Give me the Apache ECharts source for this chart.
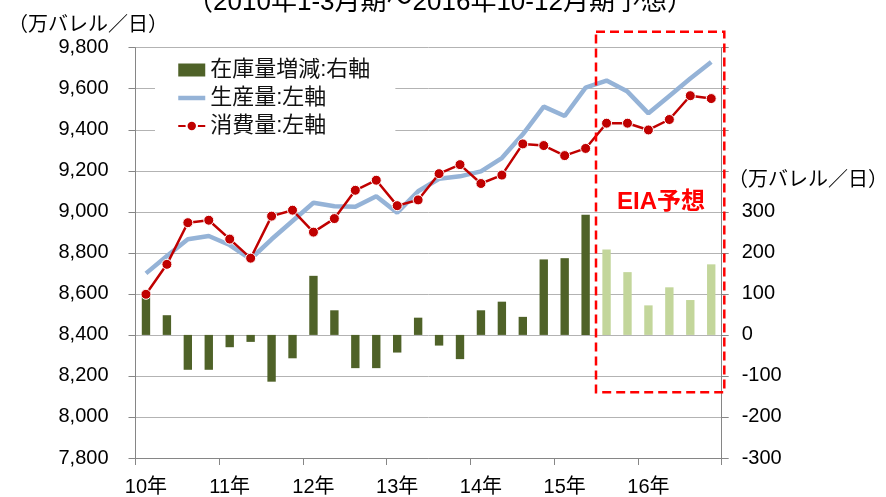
<!DOCTYPE html>
<html>
<head>
<meta charset="utf-8">
<script src="https://cdn.jsdelivr.net/npm/echarts@6/dist/echarts.min.js"></script>
<style>
  body { margin: 0; background: #fff; }
  #chart-box { width: 886px; height: 497px; }
</style>
</head>
<body>
<div id="chart-box"></div>
<script>
// 四半期データ 2010年1-3月期～2016年10-12月期 (22番目以降はEIA予想)
const years = ["10年", "11年", "12年", "13年", "14年", "15年", "16年"];
const quarterNames = ["1-3月期", "4-6月期", "7-9月期", "10-12月期"];
const forecastStart = 22;

// 在庫量増減 (右軸)
const stockChange = [97, 48, -85, -85, -30, -17, -114, -57, 144, 60, -81, -81, -43, 42,
  -26, -59, 60, 81, 44, 184, 187, 293, 208, 153, 72, 116, 85, 172];
// 生産量 (左軸)
const production = [8700, 8785, 8866, 8882, 8838, 8770, 8866, 8955, 9044, 9027, 9025, 9076,
  8996, 9100, 9161, 9173, 9197, 9262, 9378, 9513, 9467, 9605, 9640, 9586, 9480, 9565, 9650, 9730];
// 消費量 (左軸)
const consumption = [8598, 8744, 8947, 8959, 8867, 8774, 8979, 9008, 8901, 8967, 9105, 9154,
  9030, 9058, 9186, 9230, 9138, 9179, 9331, 9323, 9274, 9309, 9432, 9432, 9399, 9450, 9566, 9552];

const categories = years.flatMap((y) => quarterNames.map((q) => y + q));

const font = "'Liberation Sans', Arial, 'Noto Sans CJK JP', sans-serif";
const axisGrey = "#868686";

const chart = echarts.init(document.getElementById("chart-box"));

const option = {
  animation: false,
  textStyle: { fontFamily: font },
  grid: { left: 135.5, right: 164.3, top: 47.7, bottom: 37.7 },
  legend: {
    left: 155,
    top: 51,
    orient: "vertical",
    backgroundColor: "#fff",
    padding: [8, 25, 10, 21],
    itemWidth: 27,
    itemHeight: 13,
    itemGap: 6,
    textStyle: { fontSize: 22, color: "#111", fontFamily: font, lineHeight: 22 },
    data: [
      { name: "在庫量増減:右軸", icon: "rect" },
      { name: "生産量:左軸", itemStyle: { opacity: 0 }, lineStyle: { width: 4.5 } },
      { name: "消費量:左軸" },
    ],
  },
  xAxis: {
    type: "category",
    data: categories,
    boundaryGap: true,
    axisLine: { onZero: false, lineStyle: { color: axisGrey } },
    axisTick: { show: true, interval: 3, length: 7, lineStyle: { color: axisGrey } },
    axisLabel: {
      interval: 3,
      margin: 19,
      fontSize: 20,
      color: "#000",
      formatter: (v, i) => years[Math.floor(i / 4)],
    },
  },
  yAxis: [
    {
      type: "value",
      min: 7800,
      max: 9800,
      interval: 200,
      axisLine: { show: true, lineStyle: { color: axisGrey } },
      axisTick: { show: true, length: 7, lineStyle: { color: axisGrey } },
      axisLabel: {
        margin: 27,
        fontSize: 20,
        color: "#000",
        formatter: (v) => v.toLocaleString("en-US"),
      },
      splitLine: { lineStyle: { color: "#b3b3b3" } },
    },
    {
      type: "value",
      position: "right",
      min: -300,
      max: 700,
      interval: 100,
      axisLine: { show: true, lineStyle: { color: axisGrey } },
      axisTick: { show: true, length: 7, lineStyle: { color: axisGrey } },
      axisLabel: {
        margin: 20,
        fontSize: 20,
        color: "#000",
        formatter: (v) => (v <= 300 ? String(v) : ""),
      },
      splitLine: { show: false },
    },
  ],
  series: [
    {
      name: "在庫量増減:右軸",
      type: "bar",
      yAxisIndex: 1,
      barWidth: "40%",
      itemStyle: { color: "#4f6228" },
      data: stockChange.map((v, i) =>
        i >= forecastStart ? { value: v, itemStyle: { color: "#c3d69b" } } : v
      ),
    },
    {
      name: "生産量:左軸",
      type: "line",
      yAxisIndex: 0,
      symbol: "none",
      lineStyle: { color: "#95b3d7", width: 4.5 },
      itemStyle: { color: "#95b3d7" },
      data: production,
      z: 3,
    },
    {
      name: "消費量:左軸",
      type: "line",
      yAxisIndex: 0,
      symbol: "circle",
      symbolSize: 10,
      lineStyle: { color: "#c00000", width: 2.5 },
      itemStyle: { color: "#c00000", borderColor: "#fff", borderWidth: 1 },
      data: consumption,
      z: 4,
    },
  ],
  graphic: [
    {
      type: "text",
      style: {
        text: "（2010年1-3月期～2016年10-12月期予想）",
        x: 440,
        y: 2.5,
        align: "center",
        verticalAlign: "middle",
        font: "26px " + font,
        fill: "#000",
      },
    },
    {
      type: "text",
      style: {
        text: "（万バレル／日）",
        x: 8,
        y: 25,
        verticalAlign: "middle",
        font: "20px " + font,
        fill: "#000",
      },
    },
    {
      type: "text",
      style: {
        text: "（万バレル／日）",
        x: 728,
        y: 180,
        verticalAlign: "middle",
        font: "20px " + font,
        fill: "#000",
      },
    },
    {
      type: "text",
      style: {
        text: "EIA予想",
        x: 661,
        y: 202,
        align: "center",
        verticalAlign: "middle",
        font: "bold 24px " + font,
        fill: "#ff0000",
      },
    },
    {
      type: "rect",
      z: 100,
      shape: { x: 596, y: 31.7, width: 128.3, height: 360.6 },
      style: { fill: "none", stroke: "#ff0000", lineWidth: 2.5, lineDash: [9, 5] },
    },
  ],
};

chart.setOption(option);
</script>
</body>
</html>
